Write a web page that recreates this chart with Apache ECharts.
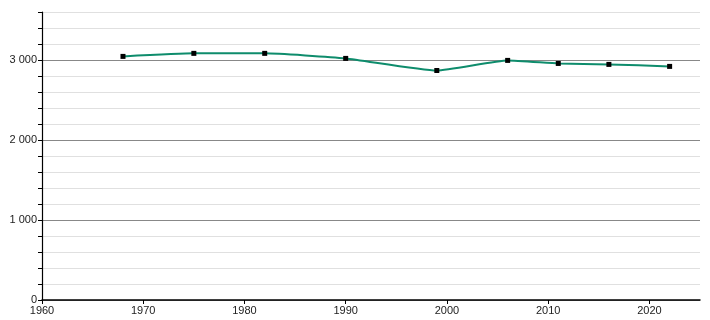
<!DOCTYPE html>
<html>
<head>
<meta charset="utf-8">
<script src="https://cdn.jsdelivr.net/npm/echarts@6/dist/echarts.min.js"></script>
<style>html,body{margin:0;padding:0;background:#fff}#c{width:710px;height:320px}</style>
</head>
<body>
<div id="c"></div>
<script>
var years = [1968, 1975, 1982, 1990, 1999, 2006, 2011, 2016, 2022];
var population = [3045, 3083, 3083, 3020, 2869, 2995, 2957, 2945, 2920];
var xTickLabels = [1960, 1970, 1980, 1990, 2000, 2010, 2020];
var yTickLabels = [0, 1000, 2000, 3000];

function fmt(v){ return String(v).replace(/\B(?=(\d{3})+(?!\d))/g, ' '); }

var chart = echarts.init(document.getElementById('c'));
chart.setOption({
  animation: false,
  grid: { left: 42, right: 10, top: 12, bottom: 20 },
  xAxis: {
    type: 'value', min: 1960, max: 2025, interval: 10,
    axisLine: { show: true, onZero: false, lineStyle: { color: '#000', width: 1.5 } },
    axisTick: { show: true, length: 4, lineStyle: { color: '#000' }, customValues: xTickLabels },
    axisLabel: { color: '#222', fontSize: 11, fontFamily: 'Liberation Sans, Arial, sans-serif', margin: 5, customValues: xTickLabels, formatter: function(v){ return String(v); } },
    splitLine: { show: false }
  },
  yAxis: {
    type: 'value', min: 0, max: 3600, interval: 200,
    axisLine: { show: true, lineStyle: { color: '#000', width: 1.2 } },
    axisTick: { show: true, length: 4, lineStyle: { color: '#000' } },
    axisLabel: { color: '#222', fontSize: 11, fontFamily: 'Liberation Sans, Arial, sans-serif', margin: 5,
      formatter: function(v){ return yTickLabels.indexOf(v) >= 0 ? fmt(v) : ''; } },
    splitLine: { show: true, lineStyle: { color: ['#888', '#e0e0e0', '#e0e0e0', '#e0e0e0', '#e0e0e0'], width: 1 } }
  },
  series: [{
    type: 'line',
    data: years.map(function(y, i){ return [y, population[i]]; }),
    smooth: 0.15,
    lineStyle: { color: '#0e8c6c', width: 2 },
    itemStyle: { color: '#000' },
    symbol: 'rect',
    symbolSize: 5,
    showAllSymbol: true
  }]
});
</script>
</body>
</html>
